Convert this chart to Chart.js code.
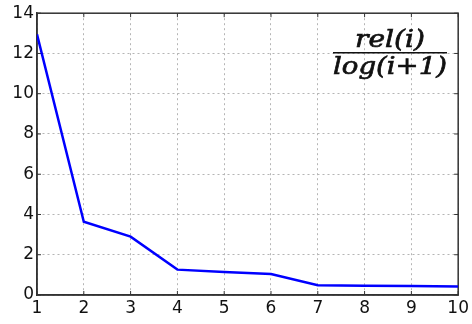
<!DOCTYPE html>
<html>
<head>
<meta charset="utf-8">
<script src="https://cdn.jsdelivr.net/npm/chart.js@4"></script>
<style>
  html, body { margin: 0; padding: 0; background: #fff; }
  #wrap { width: 472px; height: 324px; }
</style>
</head>
<body>
<div id="wrap"><canvas id="dcg"></canvas></div>
<script>
// positions i and the value rel(i)/log(i+1)
let positions = [1, 2, 3, 4, 5, 6, 7, 8, 9, 10];
let gains = [12.95, 3.64, 2.9, 1.26, 1.14, 1.04, 0.48, 0.46, 0.45, 0.42];
let yTicks = [0, 2, 4, 6, 8, 10, 12, 14];

let points = positions.map((x, i) => ({ x: x, y: gains[i] }));

// draw text squeezed/stretched to a given width
function fitText(c, text, cx, y, w) {
  let m = c.measureText(text).width;
  c.save();
  c.translate(cx, y);
  c.scale(w / m, 1);
  c.fillText(text, 0, 0);
  c.strokeText(text, 0, 0);
  c.restore();
}

let ctx = document.getElementById('dcg').getContext('2d');
let dcg = new Chart(ctx, {
  type: 'line',
  data: {
    datasets: [{
      data: points,
      borderColor: '#0000ff',
      borderWidth: 2.5,
      pointRadius: 0,
      tension: 0,
      fill: false
    }]
  },
  options: {
    responsive: true,
    maintainAspectRatio: false,
    animation: false,
    layout: { padding: { top: 13, right: 12, left: 0, bottom: 0 } },
    plugins: {
      legend: { display: false },
      tooltip: { enabled: false }
    },
    scales: {
      x: {
        type: 'linear',
        min: 1,
        max: 10,
        ticks: {
          stepSize: 1,
          color: '#111',
          font: { family: 'DejaVu Sans', size: 17 },
          padding: 3,
          maxRotation: 0
        },
        grid: { color: '#b5b5b5', lineWidth: 1, drawTicks: false },
        border: { display: true, color: '#333', width: 1.5, dash: [2, 3] },
        afterFit: function (scale) { scale.height = 29; }
      },
      y: {
        min: 0,
        max: 14,
        afterBuildTicks: function (scale) {
          scale.ticks = yTicks.map(v => ({ value: v }));
        },
        ticks: {
          color: '#111',
          font: { family: 'DejaVu Sans', size: 17 },
          padding: 3
        },
        grid: { color: '#b5b5b5', lineWidth: 1, drawTicks: false },
        border: { display: true, color: '#333', width: 1.5, dash: [2, 3] },
        afterFit: function (scale) { scale.width = 37; }
      }
    }
  },
  plugins: [{
    id: 'frame',
    beforeDatasetsDraw: function (chart) {
      let a = chart.chartArea, c = chart.ctx;
      let xs = chart.scales.x, ys = chart.scales.y;
      c.save();
      c.strokeStyle = '#333';
      c.lineWidth = 1.5;
      c.setLineDash([]);
      c.strokeRect(a.left, a.top, a.right - a.left, a.bottom - a.top);
      c.lineWidth = 1;
      c.beginPath();
      positions.forEach(v => {
        let px = xs.getPixelForValue(v);
        c.moveTo(px, a.bottom); c.lineTo(px, a.bottom - 4);
        c.moveTo(px, a.top); c.lineTo(px, a.top + 4);
      });
      yTicks.forEach(v => {
        let py = ys.getPixelForValue(v);
        c.moveTo(a.left, py); c.lineTo(a.left + 4, py);
        c.moveTo(a.right, py); c.lineTo(a.right - 4, py);
      });
      c.stroke();
      c.restore();
    },
    afterDraw: function (chart) {
      let c = chart.ctx;
      let cx = 390;
      c.save();
      c.fillStyle = '#111';
      c.strokeStyle = '#111';
      c.lineWidth = 0.7;
      c.font = 'italic 25px "DejaVu Serif"';
      c.textAlign = 'center';
      c.textBaseline = 'alphabetic';
      fitText(c, 'rel(i)', cx, 47, 70);
      fitText(c, 'log(i+1)', cx, 74, 114);
      c.fillRect(cx - 57, 52, 114, 1.5);
      c.restore();
    }
  }]
});
</script>
</body>
</html>
